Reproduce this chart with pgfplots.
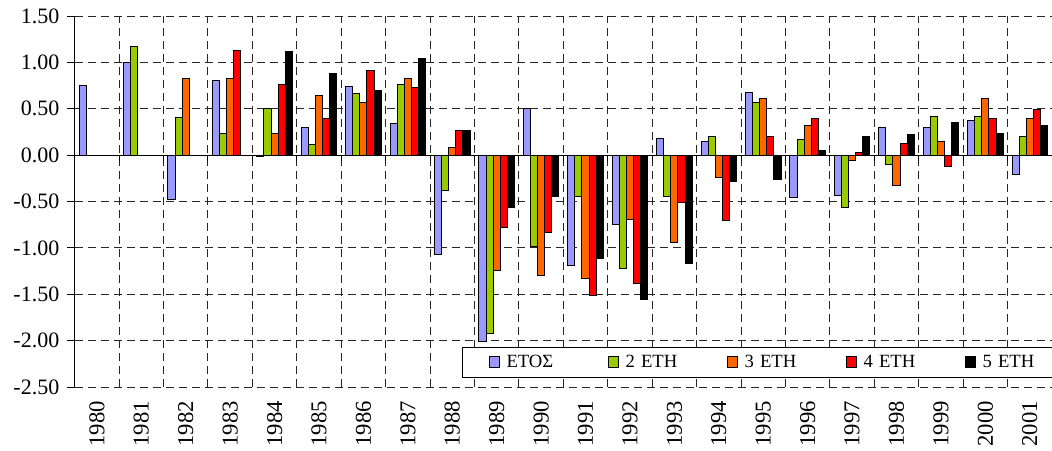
\documentclass[border=0pt]{standalone}
\usepackage{fontspec}
\setmainfont{Liberation Serif}
\newfontfamily\tnr{Liberation Serif}
\usepackage{pgfplots}
\pgfplotsset{compat=1.18}
\definecolor{cA}{HTML}{9999FF}
\definecolor{cB}{HTML}{99CC00}
\definecolor{cC}{HTML}{FF6600}
\definecolor{cD}{HTML}{FF0000}
\definecolor{cE}{HTML}{000000}
\begin{document}
\begin{tikzpicture}[font=\tnr]
\begin{axis}[
  at={(0,0)}, anchor=south west,
  scale only axis,
  width=733pt, height=278.25pt,
  xmin=-0.5, xmax=21.5,
  ymin=-2.5, ymax=1.5,
  ybar=0pt, bar width=0.16,
  axis y line*=left, axis x line*=bottom,
  x axis line style={draw=none},
  y axis line style={black, line width=0.75pt, -},
  xtick={0,...,21},
  xticklabels={1980,1981,1982,1983,1984,1985,1986,1987,1988,1989,1990,1991,1992,1993,1994,1995,1996,1997,1998,1999,2000,2001},
  x tick label style={rotate=90, anchor=east, font=\tnr\fontsize{17}{20}\selectfont, inner sep=0pt, inner xsep=5pt},
  major x tick style={draw=none},
  minor xtick={0.5,1.5,...,20.5},
  minor x tick style={draw=none},
  xminorgrids=true,
  ytick={-2.5,-2,-1.5,-1,-0.5,0,0.5,1,1.5},
  yticklabels={-2.50,-2.00,-1.50,-1.00,-0.50,0.00,0.50,1.00,1.50},
  y tick label style={font=\tnr\fontsize{16.5}{19}\selectfont, xshift=-2.5pt},
  tick align=outside,
  major tick length=5.5pt,
  major y tick style={black, line width=0.75pt},
  ymajorgrids=true,
  grid style={black!85, line width=0.75pt, dash pattern=on 6pt off 3.75pt},
  every axis plot/.append style={draw=black, line width=0.75pt},
  legend columns=5,
  legend style={at={(0.396,0.0243)}, anchor=south west, draw=black, line width=0.75pt, fill=white,
    inner xsep=20pt, inner ysep=4pt,
    font=\tnr\fontsize{14}{16}\selectfont,
    column sep=5pt,
    nodes={text width=71pt, inner xsep=0pt, align=left}},
  legend image code/.code={\draw[#1, line width=0.75pt] (0pt,-4pt) rectangle (7.5pt,4pt);},
]
\addplot[fill=cA] coordinates {(0,0.75)(1,1.00)(2,-0.48)(3,0.80)(4,-0.02)(5,0.30)(6,0.74)(7,0.34)(8,-1.07)(9,-2.01)(10,0.505)(11,-1.19)(12,-0.75)(13,0.18)(14,0.15)(15,0.68)(16,-0.46)(17,-0.43)(18,0.30)(19,0.30)(20,0.37)(21,-0.21)};
\addplot[fill=cB] coordinates {(1,1.17)(2,0.41)(3,0.23)(4,0.505)(5,0.115)(6,0.66)(7,0.76)(8,-0.38)(9,-1.92)(10,-0.99)(11,-0.45)(12,-1.22)(13,-0.45)(14,0.20)(15,0.57)(16,0.165)(17,-0.565)(18,-0.10)(19,0.42)(20,0.42)(21,0.20)};
\addplot[fill=cC] coordinates {(2,0.83)(3,0.83)(4,0.23)(5,0.64)(6,0.57)(7,0.83)(8,0.08)(9,-1.24)(10,-1.30)(11,-1.33)(12,-0.695)(13,-0.94)(14,-0.24)(15,0.61)(16,0.32)(17,-0.054)(18,-0.325)(19,0.147)(20,0.61)(21,0.39)};
\addplot[fill=cD] coordinates {(3,1.13)(4,0.76)(5,0.39)(6,0.91)(7,0.73)(8,0.27)(9,-0.785)(10,-0.835)(11,-1.51)(12,-1.38)(13,-0.51)(14,-0.71)(15,0.20)(16,0.39)(17,0.03)(18,0.12)(19,-0.125)(20,0.39)(21,0.49)};
\addplot[fill=cE] coordinates {(4,1.12)(5,0.885)(6,0.70)(7,1.04)(8,0.27)(9,-0.57)(10,-0.45)(11,-1.11)(12,-1.555)(13,-1.165)(14,-0.28)(15,-0.265)(16,0.05)(17,0.20)(18,0.22)(19,0.355)(20,0.235)(21,0.32)};
\legend{ΕΤΟΣ,2 ΕΤΗ,3 ΕΤΗ,4 ΕΤΗ,5 ΕΤΗ}
\draw[black, line width=0.75pt] (axis cs:-0.5,0) -- (axis cs:21.5,0);
\pgfplotsinvokeforeach{0.5,1.5,2.5,3.5,4.5,5.5,6.5,7.5,8.5,9.5,10.5,11.5,12.5,13.5,14.5,15.5,16.5,17.5,18.5,19.5,20.5}{
  \draw[black, line width=0.75pt] (axis cs:#1,0) -- (axis cs:#1,-0.06);
}
\end{axis}
\pgfresetboundingbox
\useasboundingbox (-56pt,-47.25pt) rectangle (733pt,290.25pt);
\end{tikzpicture}
\end{document}
